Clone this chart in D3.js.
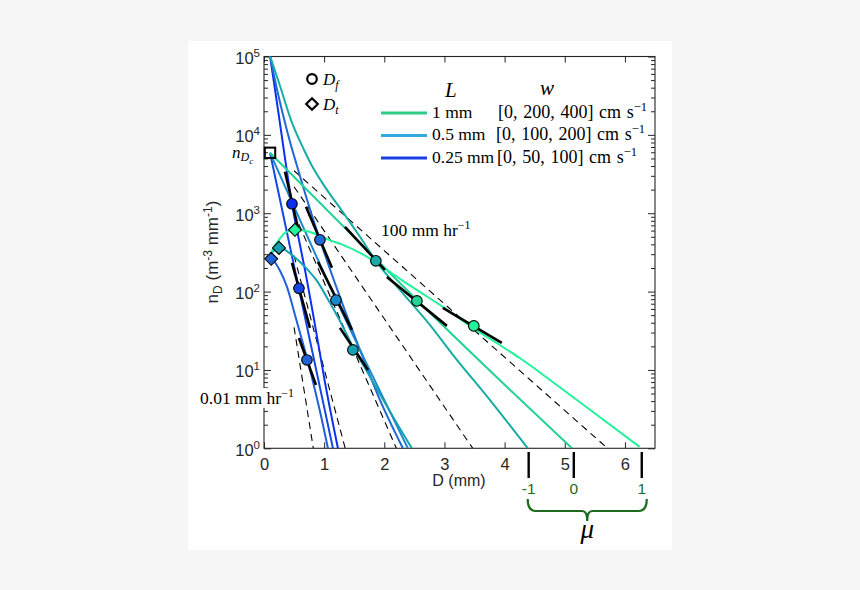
<!DOCTYPE html>
<html>
<head>
<meta charset="utf-8">
<script src="https://cdn.jsdelivr.net/npm/d3@7"></script>
<style>
  html, body { margin: 0; padding: 0; background: #f6f6f6; }
  svg { display: block; }
  .axis line { stroke: #262626; }
  .axis path { display: none; }
  .axis text { font-family: 'Liberation Sans', Arial, sans-serif; font-size: 16.5px; fill: #262626; }
  .tex { font-family: 'Liberation Serif', 'Times New Roman', serif; fill: #000; }
  .sans { font-family: 'Liberation Sans', Arial, sans-serif; fill: #262626; }
</style>
</head>
<body>
<svg id="chart" width="860" height="590"></svg>
<script>
// ---- data (D in mm, n in m^-3 mm^-1) ----
const dMax = 6.5;
const nRange = [1, 1e5];
const xTicks = [0, 1, 2, 3, 4, 5, 6];
const yTicks = [1, 10, 100, 1000, 10000, 100000];

// curves that come in from the top (steep small-drop end)
const curveT1 = [[0.10,1.02e5],[0.233,2.09e4],[0.365,4150],[0.465,1320],[0.598,394],[0.681,189],[0.847,37.6],[1.013,7.0],[1.229,1.0]];
const curveT2 = [[0.10,1.02e5],[0.199,4.37e4],[0.316,1.81e4],[0.432,8170],[0.548,4030],[0.731,1360],[0.930,457],[1.262,85.5],[1.595,18.0],[1.927,4.14],[2.309,1.0]];
const curveT3 = [[0.10,1.02e5],[0.249,4.62e4],[0.465,1.43e4],[0.664,6460],[0.797,4030],[1.013,2170],[1.262,1170],[1.595,500],[1.860,247],[2.259,105],[2.757,37.6],[3.140,15.6],[3.754,4.14],[4.385,1.0]];
// straight curves leaving n_Dc
const curveS1 = [[0.10,5900],[0.581,108],[1.146,1.0]];
const curveS2 = [[0.10,5900],[1.196,80],[2.392,1.0]];
const curveS3 = [[0.10,5900],[1.860,260],[2.542,78],[5.12,1.0]];
// peaked curves
const curveP1 = [[0.10,252],[0.12,262],[0.166,245],[0.266,184],[0.382,115],[0.515,50.4],[0.631,24.2],[0.731,12.6],[0.847,5.56],[0.963,2.30],[1.063,1.0]];
const curveP2 = [[0.10,303],[0.183,341],[0.249,361],[0.349,341],[0.482,286],[0.681,207],[0.880,137],[1.096,71.8],[1.296,37.6],[1.478,19.7],[1.678,10.6],[1.927,4.94],[2.176,2.30],[2.458,1.0]];
const curveP3 = [[0.10,286],[0.166,372],[0.249,457],[0.349,562],[0.515,614],[0.681,596],[0.847,546],[1.080,457],[1.312,394],[1.628,303],[1.877,232],[2.093,179],[2.309,137],[2.591,99.1],[2.973,63.8],[3.472,34.4],[3.920,20.8],[4.252,14.2],[4.867,6.43],[5.581,2.51],[6.246,1.04]];

// D_f points and their short black fit segments [D0, n0, D1, n1]
const dfD = [0.465, 0.930, 1.860, 0.581, 1.196, 2.542, 3.488, 1.478, 0.714];
const dfN = [1320, 457, 247, 110, 78, 76, 36.5, 18, 13.4];
const dfFits = [
  [0.349,3380,0.565,652], [0.698,1210,1.130,201], [1.346,670,2.010,189],
  [0.465,232,0.764,34.4], [0.897,239,1.462,32.4], [2.043,154,3.040,36.5],
  [2.973,61.9,3.953,22.1], [1.262,34.4,1.728,10], [0.581,25.6,0.864,6.43]
];
// D_t points
const dtD = [0.12, 0.249, 0.515];
const dtN = [262, 361, 614];
// n_Dc
const dc = 0.1, nDc = 5900;

// Marshall-Palmer reference lines (start at D = 0.5 mm, end at n = 1)
const rainRates = [0.01, 0.1, 1, 10, 100];
const mpStartN = [35, 287, 1000, 2180, 3480];
const mpEndD = [0.82, 1.35, 2.20, 3.47, 5.71];

// legend
const legendL = ['1 mm', '0.5 mm', '0.25 mm'];
const legendW = ['[0, 200, 400]', '[0, 100, 200]', '[0, 50, 100]'];

// mu bracket
const muValues = [-1, 0, 1];
const muD = [4.40, 5.15, 6.28];

// ---- styles ----
const curveList = [curveT1, curveS1, curveP1, curveT2, curveS2, curveP2, curveT3, curveS3, curveP3];
const curveColors = ['#0b30f2', '#1446e4', '#2060d8', '#1f68d6', '#1b88cc', '#15a1b2', '#18ada4', '#22d294', '#22f29c'];
const dfColors = ['#0b30f2', '#1f68d6', '#18ada4', '#1446e4', '#1b88cc', '#22d294', '#22f29c', '#15a1b2', '#2060d8'];
const dtColors = ['#2060d8', '#15a1b2', '#22f29c'];
const legendColors = ['#2ecc87', '#33aadd', '#1a3ee6'];
const muColor = '#1e6b1e';

const svg = d3.select('#chart');
svg.append('rect').attr('x', 188).attr('y', 41).attr('width', 484).attr('height', 509).attr('fill', '#fff');

const x = d3.scaleLinear().domain([0, dMax]).range([264, 655]);
const y = d3.scaleLog().domain(nRange).range([448.3, 56.5]);
const [x0, x1] = x.range();
const [yb, yt] = y.range();

// rich text helper: parts = [{t, size, shift, italic}]
function rich(g, px, py, parts, cls, size) {
  const t = g.append('text').attr('class', cls).attr('x', px).attr('y', py).attr('font-size', size);
  let off = 0;
  parts.forEach(p => {
    const s = p.shift || 0;
    t.append('tspan')
      .attr('dy', s - off)
      .attr('font-size', p.size || null)
      .attr('font-style', p.italic ? 'italic' : null)
      .text(p.t);
    off = s;
  });
  return t;
}

// ---- axes ----
const minor = [];
for (let e = 0; e < 5; e++) for (let k = 2; k <= 9; k++) minor.push(k * Math.pow(10, e));

const gAx = svg.append('g');
gAx.append('g').attr('class', 'axis').attr('transform', `translate(0,${yb})`)
  .call(d3.axisBottom(x).tickValues(xTicks).tickFormat(d3.format('d'))
    .tickSizeInner(-6).tickSizeOuter(0).tickPadding(10));
gAx.append('g').attr('class', 'axis').attr('transform', `translate(0,${yt})`)
  .call(d3.axisTop(x).tickValues(xTicks).tickSizeInner(-6).tickSizeOuter(0).tickFormat(''));

const yLeft = gAx.append('g').attr('class', 'axis').attr('transform', `translate(${x0},0)`)
  .call(d3.axisLeft(y).tickValues(yTicks).tickSizeInner(-7).tickSizeOuter(0).tickPadding(4));
gAx.append('g').attr('class', 'axis').attr('transform', `translate(${x0},0)`)
  .call(d3.axisLeft(y).tickValues(minor).tickSizeInner(-4).tickSizeOuter(0).tickFormat(''));
gAx.append('g').attr('class', 'axis').attr('transform', `translate(${x1},0)`)
  .call(d3.axisRight(y).tickValues(yTicks).tickSizeInner(-7).tickSizeOuter(0).tickFormat(''));
gAx.append('g').attr('class', 'axis').attr('transform', `translate(${x1},0)`)
  .call(d3.axisRight(y).tickValues(minor).tickSizeInner(-4).tickSizeOuter(0).tickFormat(''));

yLeft.selectAll('.tick text').attr('dy', '0.42em').each(function(d) {
  const t = d3.select(this);
  t.text(null);
  t.append('tspan').text('10');
  t.append('tspan').attr('dy', '-0.6em').attr('font-size', '11.5px').text(Math.round(Math.log10(d)));
});

gAx.append('rect').attr('x', x0).attr('y', yt).attr('width', x1 - x0).attr('height', yb - yt)
  .attr('fill', 'none').attr('stroke', '#262626').attr('stroke-width', 1.1);

// axis titles
rich(svg, 459, 486, [{t: 'D (mm)'}], 'sans', 16).attr('text-anchor', 'middle');
rich(svg, 0, 0, [
  {t: 'n'}, {t: 'D', size: '12px', shift: 4}, {t: ' (m'}, {t: '-3', size: '12px', shift: -6},
  {t: ' mm'}, {t: '-1', size: '12px', shift: -6}, {t: ')'}
], 'sans', 17).attr('text-anchor', 'middle').attr('transform', 'translate(218,252) rotate(-90)');

// white box behind the low-rate label (it hides the axis line)
svg.append('rect').attr('x', 199).attr('y', 388).attr('width', 104).attr('height', 20).attr('fill', '#fff');

// ---- plot ----
svg.append('clipPath').attr('id', 'plotclip').append('rect')
  .attr('x', x0).attr('y', yt).attr('width', x1 - x0).attr('height', yb - yt);
const plot = svg.append('g').attr('clip-path', 'url(#plotclip)');

// Marshall-Palmer dashed lines
plot.selectAll('.mp').data(rainRates).join('line')
  .attr('class', 'mp')
  .attr('x1', x(0.5)).attr('y1', (d, i) => y(mpStartN[i]))
  .attr('x2', (d, i) => x(mpEndD[i])).attr('y2', y(1))
  .attr('stroke', '#000').attr('stroke-width', 1.1).attr('stroke-dasharray', '7,5');

const line = d3.line().x(d => x(d[0])).y(d => y(d[1])).curve(d3.curveMonotoneX);
plot.selectAll('.curve').data(curveList).join('path')
  .attr('class', 'curve')
  .attr('d', line)
  .attr('fill', 'none')
  .attr('stroke', (d, i) => curveColors[i])
  .attr('stroke-width', 2);

// black fit segments at D_f
plot.selectAll('.fit').data(dfFits).join('line')
  .attr('class', 'fit')
  .attr('x1', d => x(d[0])).attr('y1', d => y(d[1]))
  .attr('x2', d => x(d[2])).attr('y2', d => y(d[3]))
  .attr('stroke', '#000').attr('stroke-width', 2.6);

// D_f circles
plot.selectAll('.df').data(dfD).join('circle')
  .attr('class', 'df')
  .attr('cx', d => x(d)).attr('cy', (d, i) => y(dfN[i]))
  .attr('r', 5.3)
  .attr('fill', (d, i) => dfColors[i])
  .attr('stroke', '#000').attr('stroke-width', 1.1);

// D_t diamonds
const diamond = s => `M0,${-s}L${s},0L0,${s}L${-s},0Z`;
svg.selectAll('.dt').data(dtD).join('path')
  .attr('class', 'dt')
  .attr('d', diamond(6.5))
  .attr('transform', (d, i) => `translate(${x(d)},${y(dtN[i])})`)
  .attr('fill', (d, i) => dtColors[i])
  .attr('stroke', '#000').attr('stroke-width', 1.1);

// n_Dc square
svg.append('rect')
  .attr('x', x(dc) - 5.2).attr('y', y(nDc) - 5.2).attr('width', 10.4).attr('height', 10.4)
  .attr('fill', 'none').attr('stroke', '#000').attr('stroke-width', 2);
rich(svg, 232, 158, [
  {t: 'n', italic: true}, {t: 'D', size: '12px', italic: true, shift: 3}, {t: 'c', size: '9px', italic: true, shift: 6}
], 'tex', 17);

// rain rate labels
rich(svg, 381, 236, [{t: '100 mm hr'}, {t: '\u22121', size: '12px', shift: -7}], 'tex', 17.5);
rich(svg, 200, 404, [{t: '0.01 mm hr'}, {t: '\u22121', size: '12px', shift: -7}], 'tex', 17.5);

// ---- legend ----
const lg = svg.append('g');
lg.append('circle').attr('cx', 312).attr('cy', 79).attr('r', 4.8)
  .attr('fill', 'none').attr('stroke', '#000').attr('stroke-width', 2.2);
lg.append('path').attr('d', diamond(5.8)).attr('transform', 'translate(312,104)')
  .attr('fill', 'none').attr('stroke', '#000').attr('stroke-width', 2.2);
rich(lg, 323, 85, [{t: 'D', italic: true}, {t: 'f', size: '12px', italic: true, shift: 4}], 'tex', 17);
rich(lg, 323, 110, [{t: 'D', italic: true}, {t: 't', size: '12px', italic: true, shift: 4}], 'tex', 17);
rich(lg, 445, 97, [{t: 'L', italic: true}], 'tex', 21);
rich(lg, 540, 95, [{t: 'w', italic: true}], 'tex', 21);

const rowY = [113, 135.5, 158];
const wX = [498, 496, 497];
legendL.forEach((l, i) => {
  lg.append('line').attr('x1', 381).attr('x2', 427).attr('y1', rowY[i]).attr('y2', rowY[i])
    .attr('stroke', legendColors[i]).attr('stroke-width', 3);
  rich(lg, 432, rowY[i] + 4.5, [{t: l}], 'tex', 17.5);
  rich(lg, wX[i], rowY[i] + 4.5, [{t: legendW[i] + ' cm s'}, {t: '\u22121', size: '12.5px', shift: -7}], 'tex', 18)
    .attr('word-spacing', 1.2);
});

// ---- mu bracket ----
const mg = svg.append('g');
mg.selectAll('.mutick').data(muD).join('line')
  .attr('x1', d => x(d)).attr('x2', d => x(d)).attr('y1', 452).attr('y2', 478)
  .attr('stroke', '#000').attr('stroke-width', 2.4);
mg.selectAll('.mulab').data(muValues).join('text')
  .attr('class', 'sans')
  .attr('x', (d, i) => x(muD[i])).attr('y', 494)
  .attr('text-anchor', 'middle').attr('font-size', 15.5)
  .style('fill', muColor)
  .text(d => d);
const bl = x(muD[0]) - 1, br = x(muD[2]) + 5, bm = (bl + br) / 2;
mg.append('path')
  .attr('d', `M${bl},499 Q${bl},511 ${bl + 8},511 L${bm - 5},511 Q${bm},511 ${bm},521 Q${bm},511 ${bm + 5},511 L${br - 8},511 Q${br},511 ${br},499`)
  .attr('fill', 'none').attr('stroke', muColor).attr('stroke-width', 2.2);
rich(mg, bm, 538, [{t: '\u03bc', italic: true}], 'tex', 27).attr('text-anchor', 'middle');
</script>
</body>
</html>
